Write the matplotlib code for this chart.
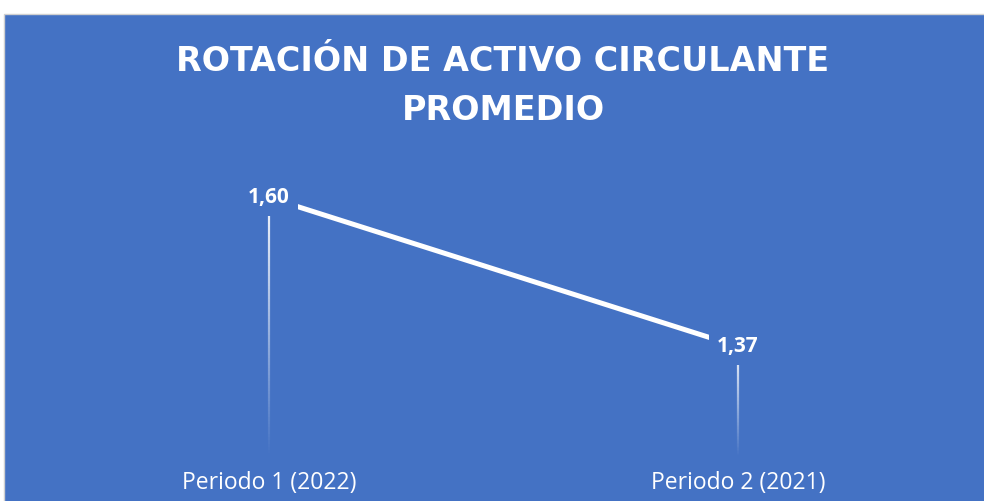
import matplotlib.pyplot as plt
import numpy as np
from matplotlib.collections import LineCollection
from matplotlib.patches import Rectangle

categories = ['Periodo 1 (2022)', 'Periodo 2 (2021)']
values = [1.60, 1.37]
value_labels = ['1,60', '1,37']
title = 'ROTACIÓN DE ACTIVO CIRCULANTE\nPROMEDIO'

W, H = 984, 501
bg = '#4472C4'
ymin, ymax = 1.2, 1.65

fig = plt.figure(figsize=(W / 100, H / 100), dpi=100)
fig.patch.set_facecolor('white')
fig.add_artist(Rectangle((4 / W, -0.01), 1, (H - 14) / H + 0.01, transform=fig.transFigure,
                         facecolor=bg, edgecolor='#d0d0d0', lw=1, zorder=-1))

ax = fig.add_axes([34.5 / W, (H - 456.7) / H, 938 / W, (456.7 - 165.1) / H])
ax.set_facecolor('none')
x = np.arange(len(categories))

# drop lines, white fading to transparent
for xi, v in zip(x, values):
    ys = np.linspace(ymin, v, 80)
    segs = [[(xi, ys[i]), (xi, ys[i + 1])] for i in range(len(ys) - 1)]
    alphas = np.linspace(0.0, 0.95, len(segs))
    lc = LineCollection(segs, colors=[(1, 1, 1, a) for a in alphas], linewidths=1.6, zorder=2)
    ax.add_collection(lc)

ax.plot(x, values, color='white', lw=3.6, solid_capstyle='butt', zorder=3)

for xi, v, lab in zip(x, values, value_labels):
    ax.text(xi, v, lab, ha='center', va='center', color='white', fontsize=15,
            fontweight='bold', family='Open Sans', zorder=5,
            bbox=dict(boxstyle='square,pad=0.4', fc=bg, ec='none'))

ax.set_xlim(-0.5, 1.5)
ax.set_ylim(ymin, ymax)
ax.set_xticks(x, categories)
ax.set_yticks([])
ax.tick_params(axis='x', length=0, colors='white', labelsize=16.5, pad=10)
for t in ax.get_xticklabels():
    t.set_family('Open Sans')
for s in ax.spines.values():
    s.set_visible(False)

fig.text(503 / W, 1 - 86 / H, title, ha='center', va='center', multialignment='center',
         color='white', fontsize=24, fontweight='bold', family='DejaVu Sans', linespacing=1.58)

plt.savefig('out.png', dpi=100, facecolor=fig.get_facecolor())
